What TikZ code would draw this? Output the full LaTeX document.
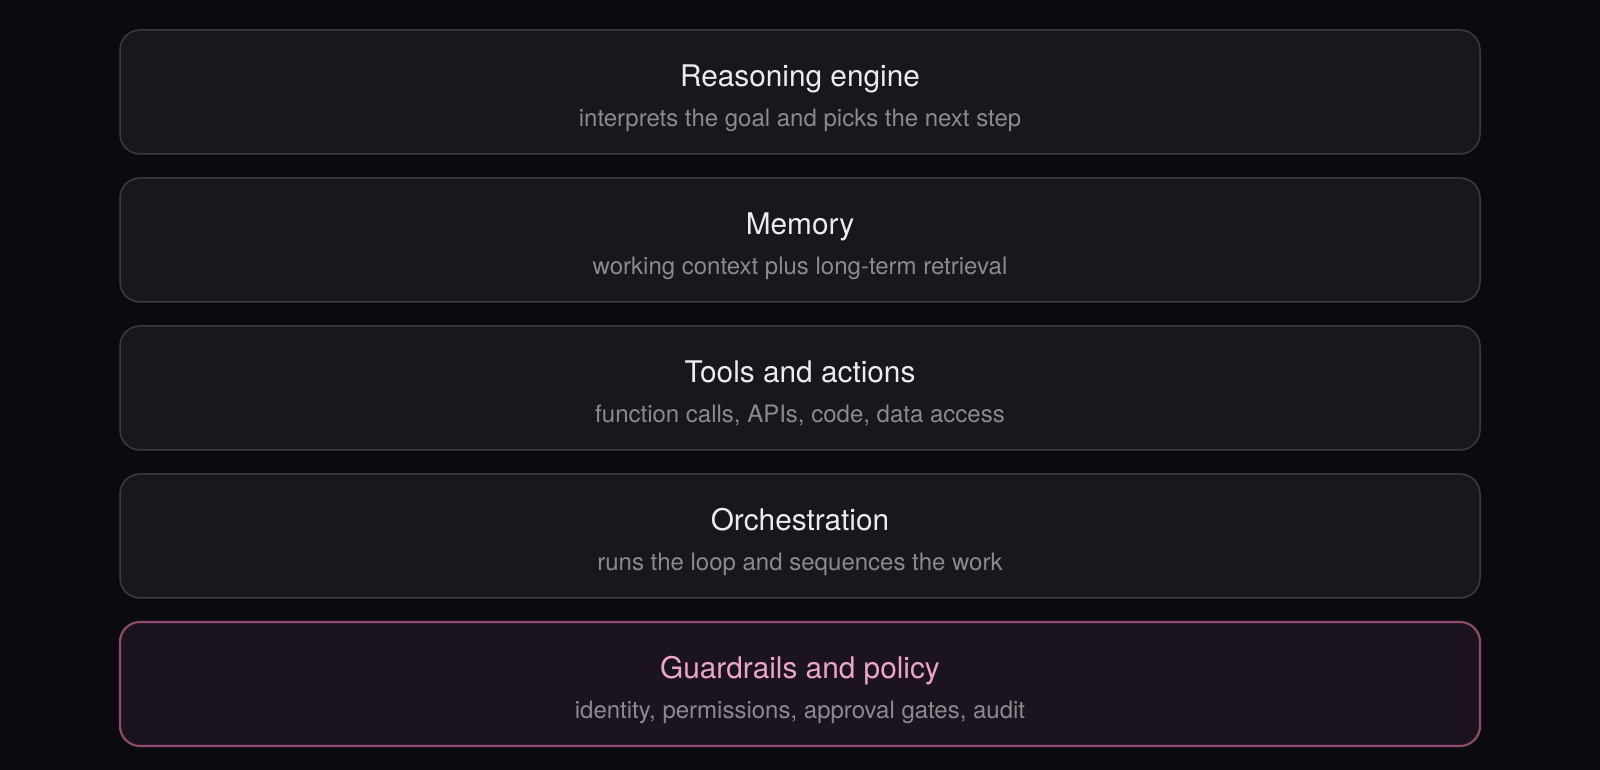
\documentclass[tikz,border=0pt]{standalone}
\usepackage{fontspec}
\setmainfont{TeX Gyre Heros}
\definecolor{bgc}{HTML}{0B0B0F}
\definecolor{boxfill}{HTML}{18171C}
\definecolor{boxline}{HTML}{3C3B42}
\definecolor{titlec}{HTML}{ECECEF}
\definecolor{subc}{HTML}{8B8A91}
\definecolor{pinkline}{HTML}{92486F}
\definecolor{pinkfill}{HTML}{1B131D}
\definecolor{pinktitle}{HTML}{EBA6C9}
\tikzset{
  layer/.style={draw=boxline, fill=boxfill, line width=1.5pt, rounded corners=20pt,
    minimum width=1360pt, minimum height=124pt, inner sep=0pt},
  guard/.style={layer, draw=pinkline, fill=pinkfill, line width=2.2pt},
  ttl/.style={anchor=base, inner sep=0pt, text=titlec, font=\fontsize{29.8}{34}\selectfont},
  sub/.style={anchor=base, inner sep=0pt, text=subc, font=\fontsize{24}{28}\selectfont},
}
\begin{document}
\begin{tikzpicture}[x=1pt,y=1pt]
\fill[bgc] (0,0) rectangle (1600,770);
\useasboundingbox (0,0) rectangle (1600,770);
% box centres: tikz y = 678 - 148 i
\node[layer] (reasoning) at (800,678) {};
\node[ttl] (reasoningT) at (800,683) {Reasoning engine};
\node[sub] (reasoningS) at (800,643) {interprets the goal and picks the next step};

\node[layer] (memory) at (800,530) {};
\node[ttl] (memoryT) at (800,535) {Memory};
\node[sub] (memoryS) at (800,495) {working context plus long-term retrieval};

\node[layer] (tools) at (800,382) {};
\node[ttl] (toolsT) at (800,387) {Tools and actions};
\node[sub] (toolsS) at (800,347) {function calls, APIs, code, data access};

\node[layer] (orch) at (800,234) {};
\node[ttl] (orchT) at (800,239) {Orchestration};
\node[sub] (orchS) at (800,199) {runs the loop and sequences the work};

\node[guard] (guard) at (800,86) {};
\node[ttl, text=pinktitle] (guardT) at (800,91) {Guardrails and policy};
\node[sub] (guardS) at (800,51) {identity, permissions, approval gates, audit};
\end{tikzpicture}
\end{document}
